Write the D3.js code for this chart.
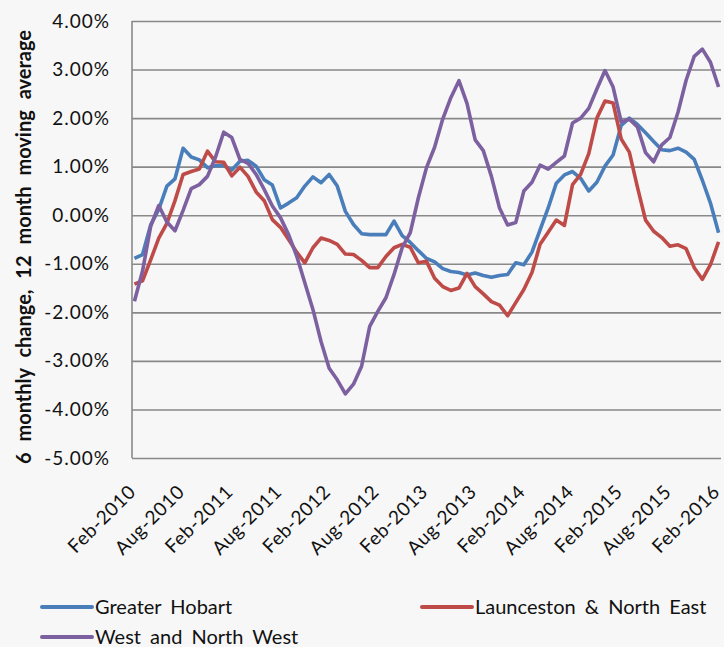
<!DOCTYPE html>
<html>
<head>
<meta charset="utf-8">
<script src="https://cdn.jsdelivr.net/npm/d3@7"></script>
<style>
  body { margin: 0; background: #f7f7f7; }
  svg { display: block; font-family: Lato, "Open Sans", sans-serif; }
</style>
</head>
<body>
<div class="container"></div>
<script>
// monthly, Feb-2010 .. Feb-2016 (73 points), values in %
const seriesNames = ["Greater Hobart", "Launceston & North East", "West and North West"]
const seriesColors = ["#4a7ebb", "#be4b48", "#7d60a0"]

const hobart = [
  -0.89, -0.81, -0.20, 0.12, 0.60, 0.75, 1.38, 1.20, 1.14, 0.98, 1.02, 1.02, 0.93,
  1.11, 1.13, 1.01, 0.73, 0.62, 0.15, 0.25, 0.36, 0.60, 0.79, 0.67, 0.84,
  0.60, 0.08, -0.19, -0.38, -0.40, -0.40, -0.40, -0.12, -0.42, -0.56, -0.73, -0.89,
  -0.96, -1.10, -1.16, -1.18, -1.23, -1.19, -1.24, -1.28, -1.24, -1.22, -0.98, -1.02,
  -0.76, -0.30, 0.15, 0.66, 0.83, 0.90, 0.76, 0.50, 0.68, 1.01, 1.24, 1.85,
  2.00, 1.87, 1.70, 1.52, 1.35, 1.33, 1.38, 1.30, 1.15, 0.72, 0.25, -0.36
]
const launceston = [
  -1.42, -1.35, -0.92, -0.47, -0.17, 0.30, 0.84, 0.90, 0.95, 1.32, 1.10, 1.09, 0.81,
  0.99, 0.80, 0.48, 0.30, -0.09, -0.25, -0.50, -0.76, -0.98, -0.67, -0.47, -0.52,
  -0.60, -0.80, -0.81, -0.93, -1.08, -1.08, -0.85, -0.67, -0.60, -0.66, -0.98, -0.95,
  -1.30, -1.47, -1.55, -1.50, -1.20, -1.47, -1.62, -1.78, -1.85, -2.07, -1.80, -1.53,
  -1.18, -0.60, -0.35, -0.10, -0.21, 0.63, 0.84, 1.27, 2.00, 2.35, 2.31, 1.57,
  1.30, 0.58, -0.10, -0.33, -0.46, -0.64, -0.61, -0.69, -1.08, -1.32, -1.02, -0.55
]
const westNorthWest = [
  -1.77, -1.15, -0.23, 0.20, -0.14, -0.32, 0.10, 0.55, 0.63, 0.80, 1.20, 1.71, 1.60,
  1.15, 1.07, 0.84, 0.53, 0.19, -0.05, -0.40, -0.84, -1.39, -1.94, -2.60, -3.15,
  -3.39, -3.68, -3.48, -3.11, -2.29, -1.98, -1.70, -1.22, -0.67, -0.36, 0.36, 0.98,
  1.40, 1.98, 2.42, 2.77, 2.30, 1.55, 1.33, 0.80, 0.15, -0.20, -0.15, 0.50,
  0.68, 1.03, 0.95, 1.09, 1.22, 1.90, 2.00, 2.20, 2.60, 2.98, 2.64, 1.92,
  1.98, 1.82, 1.29, 1.10, 1.45, 1.60, 2.12, 2.78, 3.27, 3.42, 3.15, 2.64
]

const xTickLabels = ["Feb-2010", "Aug-2010", "Feb-2011", "Aug-2011", "Feb-2012", "Aug-2012",
  "Feb-2013", "Aug-2013", "Feb-2014", "Aug-2014", "Feb-2015", "Aug-2015", "Feb-2016"]
const yTicks = [-5, -4, -3, -2, -1, 0, 1, 2, 3, 4]
const yTitle = "6 monthly change, 12 month moving average"

const fmtMonth = d3.timeFormat("%b-%Y")
const months = d3.timeMonth.range(new Date(2010, 1, 1), new Date(2016, 2, 1)).map(fmtMonth)

const width = 724, height = 647
const plot = {left: 132, right: 721, top: 21, bottom: 458}

const svg = d3.select(".container").append("svg")
  .attr("width", width)
  .attr("height", height)

svg.append("rect").attr("width", width).attr("height", height).attr("fill", "#f7f7f7")

const x = d3.scalePoint().domain(months).range([plot.left, plot.right]).padding(0.3)
const y = d3.scaleLinear().domain([-5, 4]).range([plot.bottom, plot.top])

// y axis with gridlines
const yAxis = svg.append("g")
  .attr("transform", `translate(${plot.left},0)`)
  .call(d3.axisLeft(y).tickValues(yTicks)
    .tickSize(-(plot.right - plot.left))
    .tickPadding(22)
    .tickFormat(d => d.toFixed(2) + "%"))
yAxis.select(".domain").remove()
yAxis.selectAll(".tick line").attr("stroke", "#898989").attr("stroke-width", 1.6)
yAxis.selectAll(".tick text")
  .attr("font-size", 19).attr("letter-spacing", 1).attr("fill", "#111")
  .attr("font-family", "Lato, sans-serif")

// left axis line
svg.append("line")
  .attr("x1", plot.left).attr("x2", plot.left)
  .attr("y1", plot.top).attr("y2", plot.bottom)
  .attr("stroke", "#898989").attr("stroke-width", 1.6)

// x axis labels
const xAxis = svg.append("g")
  .attr("transform", `translate(0,${plot.bottom})`)
  .call(d3.axisBottom(x).tickValues(xTickLabels).tickSize(0).tickPadding(0))
xAxis.select(".domain").remove()
xAxis.selectAll(".tick text")
  .attr("font-size", 19).attr("letter-spacing", 0.6).attr("fill", "#111")
  .attr("font-family", "Lato, sans-serif")
  .attr("text-anchor", "end")
  .attr("dy", null)
  .attr("y", 0)
  .attr("transform", "translate(2,35) rotate(-45)")

// y title
svg.append("text")
  .attr("transform", "translate(31,247) rotate(-90)")
  .attr("text-anchor", "middle")
  .attr("font-size", 20)
  .attr("font-weight", "bold")
  .attr("word-spacing", 6)
  .attr("fill", "#111")
  .text(yTitle)

// lines
const allSeries = [hobart, launceston, westNorthWest]
const line = d3.line()
  .x((d, i) => x(months[i]))
  .y(d => y(d))

svg.selectAll("path.series")
  .data(allSeries)
  .enter()
  .append("path")
  .attr("class", "series")
  .attr("d", d => line(d))
  .attr("fill", "none")
  .attr("stroke", (d, i) => seriesColors[i])
  .attr("stroke-width", 3.6)
  .attr("stroke-linejoin", "round")

// legend
const legend = svg.selectAll("g.legend")
  .data(seriesNames)
  .enter()
  .append("g")
  .attr("class", "legend")
  .attr("transform", (d, i) => `translate(${42 + (i % 2) * 380},${607 + Math.floor(i / 2) * 30})`)

legend.append("line")
  .attr("x1", 0).attr("x2", 50)
  .attr("stroke", (d, i) => seriesColors[i])
  .attr("stroke-width", 4)
  .attr("stroke-linecap", "round")

legend.append("text")
  .attr("x", 53)
  .attr("dy", "0.36em")
  .attr("font-size", 20)
  .attr("fill", "#111")
  .attr("word-spacing", 4)
  .text(d => d)
</script>
</body>
</html>
